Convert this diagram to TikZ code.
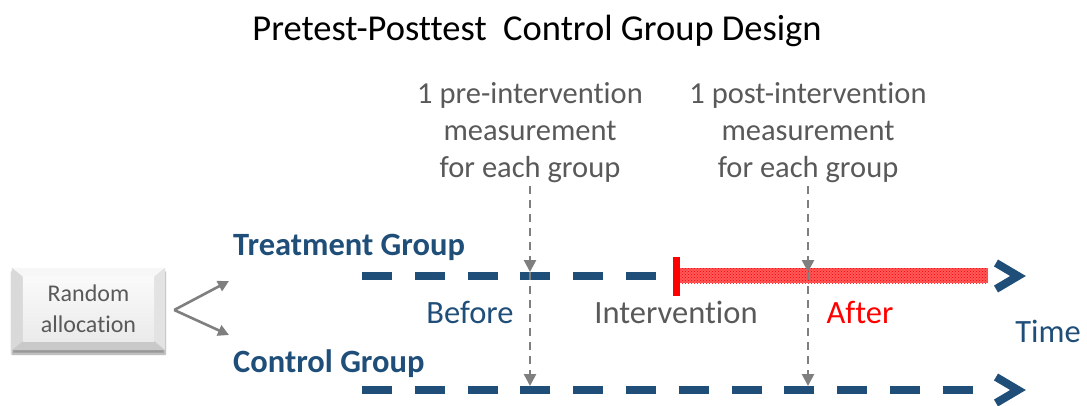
\documentclass[tikz,border=0pt]{standalone}
\usepackage{fontspec}
\setmainfont{Carlito}[Ligatures=NoCommon]
\usetikzlibrary{patterns,shadows.blur,arrows.meta,calc}
\definecolor{navy}{HTML}{1F4E79}
\definecolor{txtgray}{HTML}{595959}
\definecolor{lngray}{HTML}{7F7F7F}
\tikzset{
  timeline/.style={draw=navy, line width=8pt, dash pattern=on 30pt off 22.8pt},
  chevron/.style={draw=navy, line width=8pt, line join=miter, line cap=butt},
  measure/.style={draw=lngray, line width=2.6pt, dash pattern=on 8pt off 6pt,
    -{Triangle[length=12pt,width=12pt]}},
  branch/.style={draw=lngray, line width=2.6pt, -{Triangle[length=11pt,width=11pt]}},
  lbl/.style={font=\fontsize{30.5}{37}\selectfont, text=txtgray, align=center, inner sep=0pt},
  grp/.style={font=\bfseries\fontsize{32.5}{36}\selectfont, text=navy, anchor=base west, inner sep=0pt},
  phase/.style={font=\fontsize{32.5}{36}\selectfont, anchor=base, inner sep=0pt},
}
\begin{document}
\begin{tikzpicture}[x=1pt,y=-1pt]
\useasboundingbox (0,0) rectangle (1087,405);

% title
\node[anchor=base, inner sep=0pt, font=\fontsize{36.5}{40}\selectfont] (title) at (537,40)
  {Pretest-Posttest\ \ Control Group Design};

% measurement labels (base anchor sits on the last line)
\node[lbl, anchor=base] (pre) at (530,177) {1 pre-intervention\\measurement\\for each group};
\node[lbl, anchor=base] (post) at (808,177) {1 post-intervention\\measurement\\for each group};

% group labels
\node[grp] (tg) at (233,255) {Treatment Group};
\node[grp] (cg) at (233,372) {Control Group};

% timeline coordinates
\coordinate (ts) at (362,276);
\coordinate (te) at (662,276);
\coordinate (cs) at (362,390);
\coordinate (ce) at (975,390);

% treatment timeline: before, intervention, after
\draw[timeline] (ts) -- (te);
\node[fill=red, minimum width=7pt, minimum height=39pt, inner sep=0pt] (iv) at (676,276) {};
\path[fill=red!65] (680,268) rectangle (988,283);
\path[pattern=crosshatch dots, pattern color=red] (680,268) rectangle (988,283);
\draw[chevron] (996,263) -- (1018,276) -- (996,289);

% control timeline
\draw[timeline] (cs) -- (ce);
\draw[chevron] (996,377) -- (1018,390) -- (996,403);

% phase labels
\node[phase, text=navy] (before) at (470,323) {Before};
\node[phase, text=txtgray] (interv) at (676,323) {Intervention};
\node[phase, text=red] (after) at (860,323) {After};
\node[phase, text=navy] (time) at (1048,342) {Time};

% measurement arrows
\coordinate (m1t) at (530,272);
\coordinate (m1c) at (530,386);
\coordinate (m2t) at (808,272);
\coordinate (m2c) at (808,386);
\draw[measure] ([yshift=-4pt]pre.south) -- (m1t);
\draw[measure] (m1t) -- (m1c);
\draw[measure] ([yshift=-4pt]post.south) -- (m2t);
\draw[measure] (m2t) -- (m2c);

% random allocation box with bevel
\node[minimum width=153pt, minimum height=82pt, inner sep=0pt, fill=gray!20,
  blur shadow={shadow xshift=0pt, shadow yshift=-4pt, shadow blur steps=6}] (ra) at (88.5,309) {};
\coordinate (o1) at (ra.north west);
\coordinate (o2) at (ra.north east);
\coordinate (o3) at (ra.south east);
\coordinate (o4) at (ra.south west);
\coordinate (i1) at ($(o1)+(11,9)$);
\coordinate (i2) at ($(o2)+(-11,9)$);
\coordinate (i3) at ($(o3)+(-11,-9)$);
\coordinate (i4) at ($(o4)+(11,-9)$);
\fill[gray!6] (o1) -- (o2) -- (i2) -- (i1) -- cycle;
\fill[gray!30] (o1) -- (i1) -- (i4) -- (o4) -- cycle;
\fill[gray!22] (o2) -- (o3) -- (i3) -- (i2) -- cycle;
\fill[gray!42] (o4) -- (i4) -- (i3) -- (o3) -- cycle;
\shade[top color=gray!4, bottom color=gray!16] (i1) rectangle (i3);
\node[font=\fontsize{24}{31}\selectfont, text=txtgray, align=center, inner sep=0pt] (ratext) at (ra.center) {Random\\allocation};

% branch arrows
\coordinate (fork) at ($(ra.east)+(9,1)$);
\coordinate (btop) at (229,281);
\coordinate (bbot) at (229,335);
\draw[branch] (fork) -- (btop);
\draw[branch] (fork) -- (bbot);
\end{tikzpicture}
\end{document}
